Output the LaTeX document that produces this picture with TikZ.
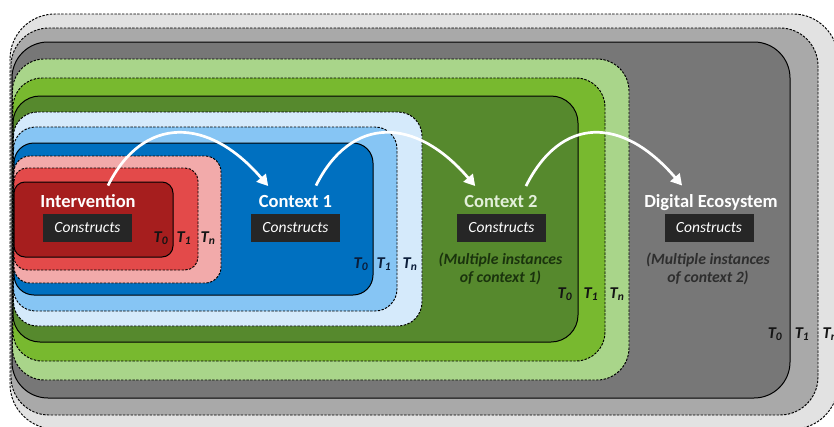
\documentclass[tikz,border=0pt]{standalone}
\usepackage{fontspec}
\setmainfont{Carlito}
\usetikzlibrary{arrows.meta}
\definecolor{glight}{HTML}{E2E2E2}
\definecolor{gmid}{HTML}{A9A9A9}
\definecolor{gdark}{HTML}{777777}
\definecolor{nlight}{HTML}{A9D58A}
\definecolor{nmid}{HTML}{78B92F}
\definecolor{ndark}{HTML}{56892D}
\definecolor{blight}{HTML}{D5EAFB}
\definecolor{bmid}{HTML}{86C5F4}
\definecolor{bdark}{HTML}{0070C0}
\definecolor{rlight}{HTML}{F2AAAA}
\definecolor{rmid}{HTML}{E34A4A}
\definecolor{rdark}{HTML}{A61E1E}
\definecolor{boxfill}{HTML}{262626}
\definecolor{ctwotxt}{HTML}{E2EFD9}
\definecolor{cnotegreen}{HTML}{1A330D}
\definecolor{cnotegray}{HTML}{2E2E2E}
\definecolor{tdark}{HTML}{141414}
\definecolor{tnavy}{HTML}{0B1D3A}
\tikzset{
  zsolid/.style={draw=black, line width=1pt},
  zdash/.style={draw=black, line width=0.95pt, dash pattern=on 2.4pt off 1.4pt},
  ttl/.style={font=\bfseries\fontsize{18.5}{21}\selectfont, text=white, inner sep=0pt, text height=12.5pt, text depth=0pt},
  cbox/.style={fill=boxfill, text=white, font=\itshape\fontsize{15.5}{17}\selectfont, minimum width=89pt, minimum height=28pt, inner sep=0pt},
  note/.style={font=\bfseries\itshape\fontsize{15.7}{18}\selectfont, align=center, inner sep=0pt},
  tlab/.style={font=\bfseries\itshape\fontsize{16.5}{17}\selectfont, text=tdark, inner sep=0pt},
  arr/.style={draw=white, line width=2.7pt, -{Triangle[length=11pt,width=12pt]}}
}
\begin{document}
\begin{tikzpicture}[x=1pt,y=-1pt]
\useasboundingbox (0,0) rectangle (834,426);
\clip (0,0) rectangle (834,426);
% Digital ecosystem (gray)
\draw[zdash, fill=glight, rounded corners=45pt] (10,14) rectangle (838,429);
\draw[zdash, fill=gmid, rounded corners=38pt] (11,28) rectangle (818,415);
\draw[zsolid, fill=gdark, rounded corners=36pt] (12,42) rectangle (790,398);
% Context 2 (green)
\draw[zdash, fill=nlight, rounded corners=32pt] (12.5,59) rectangle (629,380);
\draw[zdash, fill=nmid, rounded corners=29pt] (13,78) rectangle (605,361);
\draw[zsolid, fill=ndark, rounded corners=27pt] (13,96) rectangle (578,342);
% Context 1 (blue)
\draw[zdash, fill=blight, rounded corners=24pt] (13.5,112) rectangle (422,326);
\draw[zdash, fill=bmid, rounded corners=22pt] (13.5,127) rectangle (397,311);
\draw[zsolid, fill=bdark, rounded corners=20pt] (14,143) rectangle (373,295);
% Intervention (red)
\draw[zdash, fill=rlight, rounded corners=16pt] (14,156) rectangle (221,283);
\draw[zdash, fill=rmid, rounded corners=13pt] (14,168) rectangle (198,270);
\draw[zsolid, fill=rdark, rounded corners=11pt] (14,182) rectangle (173,257);
% titles and boxes
\node[ttl] (int) at (88,201) {Intervention};
\node[cbox] (intc) at (87.5,228) {Constructs};
\node[ttl] (c1) at (295.5,201) {Context 1};
\node[cbox] (c1c) at (295.5,228) {Constructs};
\node[ttl, text=ctwotxt] (c2) at (501,201) {Context 2};
\node[cbox] (c2c) at (501.5,228) {Constructs};
\node[note, text=cnotegreen] (c2n) at (500.5,269) {(Multiple instances\\of context 1)};
\node[ttl] (de) at (711,201) {Digital Ecosystem};
\node[cbox] (dec) at (709,228) {Constructs};
\node[note, text=cnotegray] (den) at (708,269) {(Multiple instances\\of context 2)};
% time labels
\node[tlab] (r0) at (161,238) {T\textsubscript{0}};
\node[tlab] (r1) at (184,238) {T\textsubscript{1}};
\node[tlab] (rn) at (208,238) {T\textsubscript{n}};
\node[tlab, text=tnavy] (b0) at (361,264) {T\textsubscript{0}};
\node[tlab, text=tnavy] (b1) at (384,264) {T\textsubscript{1}};
\node[tlab, text=tnavy] (bn) at (410,264) {T\textsubscript{n}};
\node[tlab] (n0) at (565,294) {T\textsubscript{0}};
\node[tlab] (n1) at (591,294) {T\textsubscript{1}};
\node[tlab] (nn) at (617,294) {T\textsubscript{n}};
\node[tlab] (g0) at (775,334) {T\textsubscript{0}};
\node[tlab] (g1) at (802,334) {T\textsubscript{1}};
\node[tlab] (gn) at (830,334) {T\textsubscript{n}};
% arrows
\draw[arr] ([shift={(20pt,9pt)}]int.north) .. controls +(35,-70) and +(-60,-70) .. ([shift={(9.5pt,8.5pt)}]c1.north west);
\draw[arr] ([shift={(20.5pt,9pt)}]c1.north) .. controls +(35,-70) and +(-60,-70) .. ([shift={(11pt,8.5pt)}]c2.north west);
\draw[arr] ([shift={(25pt,8.5pt)}]c2.north) .. controls +(35,-70) and +(-60,-70) .. ([shift={(38pt,9pt)}]de.north west);
\end{tikzpicture}
\end{document}
